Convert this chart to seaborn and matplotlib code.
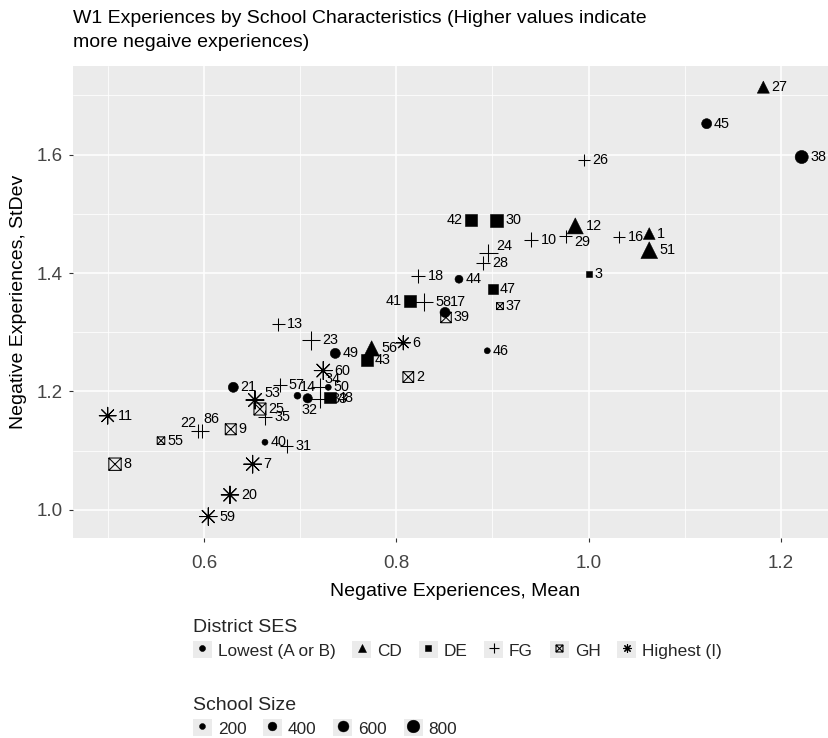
import numpy as np
import pandas as pd
import matplotlib
matplotlib.use("Agg")
import matplotlib.pyplot as plt
import seaborn as sns
from matplotlib.path import Path
from matplotlib.markers import MarkerStyle
from matplotlib.patches import Rectangle
from matplotlib.lines import Line2D
from matplotlib.legend_handler import HandlerTuple
from matplotlib import font_manager
from matplotlib.ticker import MultipleLocator, FormatStrFormatter

# ---------------- data ----------------
title_text = "W1 Experiences by School Characteristics (Higher values indicate\nmore negaive experiences)"
x_title = "Negative Experiences, Mean"
y_title = "Negative Experiences, StDev"
ses_title = "District SES"
size_title = "School Size"
ses_levels = ["Lowest (A or B)", "CD", "DE", "FG", "GH", "Highest (I)"]
size_breaks = [200, 400, 600, 800]

lowest_id = [38, 45, 17, 44, 46, 49, 21, 14, 32, 50, 40]
lowest_mean = [1.2215, 1.1227, 0.8507, 0.8652, 0.8946, 0.7366, 0.6306, 0.6973, 0.7079, 0.7293, 0.6635]
lowest_sd = [1.5960, 1.6523, 1.3335, 1.3896, 1.2687, 1.2643, 1.2070, 1.1928, 1.1884, 1.2070, 1.1142]
lowest_size = [850, 510, 510, 330, 200, 510, 510, 250, 440, 200, 200]

cd_id = [27, 12, 1, 51, 56]
cd_mean = [1.1816, 0.9861, 1.0630, 1.0630, 0.7744]
cd_sd = [1.7140, 1.4796, 1.4667, 1.4386, 1.2727]
cd_size = [410, 700, 390, 760, 640]

de_id = [30, 41, 42, 43, 48, 47, 3]
de_mean = [0.9044, 0.8143, 0.8774, 0.7696, 0.7311, 0.9002, 1.0004]
de_sd = [1.4892, 1.3530, 1.4892, 1.2530, 1.1894, 1.3728, 1.3981]
de_size = [850, 800, 720, 680, 650, 500, 200]

fg_id = [26, 10, 29, 16, 24, 28, 18, 58, 13, 23, 57, 35, 31, 22, 86, 34, 33]
fg_mean = [0.9952, 0.9401, 0.9761, 1.0319, 0.8957, 0.8905, 0.8229, 0.8288, 0.6773,
           0.7113, 0.6791, 0.6635, 0.6861, 0.5942, 0.5977, 0.7207, 0.7207]
fg_sd = [1.5916, 1.4566, 1.4622, 1.4610, 1.4340, 1.4171, 1.3947, 1.3503, 1.3132,
         1.2862, 1.2108, 1.1563, 1.1079, 1.1332, 1.1332, 1.2080, 1.1867]
fg_size = [360, 520, 450, 360, 850, 500, 520, 800, 450, 850, 450, 560, 450, 560, 560, 800, 800]

gh_id = [8, 25, 9, 55, 39, 2, 37]
gh_mean = [0.5076, 0.6583, 0.6279, 0.5554, 0.8517, 0.8125, 0.9078]
gh_sd = [1.0771, 1.1703, 1.1361, 1.1169, 1.3250, 1.2243, 1.3441]
gh_size = [760, 720, 600, 300, 560, 580, 250]

hi_id = [11, 53, 7, 20, 59, 60, 6]
hi_mean = [0.5000, 0.6531, 0.6507, 0.6271, 0.6046, 0.7241, 0.8073]
hi_sd = [1.1590, 1.1855, 1.0771, 1.0253, 0.9887, 1.2353, 1.2822]
hi_size = [700, 800, 780, 750, 750, 800, 500]

groups = [
    (ses_levels[0], lowest_id, lowest_mean, lowest_sd, lowest_size),
    (ses_levels[1], cd_id, cd_mean, cd_sd, cd_size),
    (ses_levels[2], de_id, de_mean, de_sd, de_size),
    (ses_levels[3], fg_id, fg_mean, fg_sd, fg_size),
    (ses_levels[4], gh_id, gh_mean, gh_sd, gh_size),
    (ses_levels[5], hi_id, hi_mean, hi_sd, hi_size),
]
df = pd.concat([
    pd.DataFrame({"id": i, "ses": g, "mean": m, "sd": s, "size": z})
    for g, i, m, s, z in groups
], ignore_index=True)

# ---------------- style ----------------
sns.set_style("darkgrid", {"axes.facecolor": "#EBEBEB", "grid.color": "white",
                           "axes.edgecolor": "none"})
avail = {f.name for f in font_manager.fontManager.ttflist}
fam = "Liberation Sans" if "Liberation Sans" in avail else "DejaVu Sans"
plt.rcParams["font.family"] = [fam, "DejaVu Sans"]

W, H = 829, 738
fig = plt.figure(figsize=(W / 100, H / 100), dpi=100)

# x/y limits via ggplot-like 5% expansion
xr = df["mean"].max() - df["mean"].min()
yr = df["sd"].max() - df["sd"].min()
xlim = (df["mean"].min() - 0.05 * xr, df["mean"].max() + 0.05 * xr)
ylim = (df["sd"].min() - 0.05 * yr, df["sd"].max() + 0.05 * yr)

# panel in pixels (right edge extends slightly past the canvas like the reference)
pl, pt_, pb = 73, 65.7, 538
pr = pl + (xlim[1] - xlim[0]) * 961.9
ax = fig.add_axes([pl / W, 1 - pb / H, (pr - pl) / W, (pb - pt_) / H])

GH_PATH = Path([(-.5, -.5), (.5, -.5), (.5, .5), (-.5, .5), (-.5, -.5),
                (-.5, -.5), (.5, .5), (-.5, .5), (.5, -.5)],
               [Path.MOVETO, Path.LINETO, Path.LINETO, Path.LINETO, Path.CLOSEPOLY,
                Path.MOVETO, Path.LINETO, Path.MOVETO, Path.LINETO])

# marker, area factor, filled
marker_spec = {
    ses_levels[0]: ("o", 1.0, True),
    ses_levels[1]: ("^", 1.82, True),
    ses_levels[2]: ("s", 1.0, True),
    ses_levels[3]: ("+", 2.0, False),
    ses_levels[4]: (MarkerStyle(GH_PATH, fillstyle="none"), 1.0, False),
    ses_levels[5]: ((8, 2, 0), 2.0, False),
}
S_LO, S_HI = 18.7, 94.3
NORM = (200, 900)


def area(v, f):
    t = np.clip((v - NORM[0]) / (NORM[1] - NORM[0]), 0, 1)
    return (S_LO + t * (S_HI - S_LO)) * f


for lvl in ses_levels:
    m, f, filled = marker_spec[lvl]
    sub = df[df["ses"] == lvl]
    kw = dict(edgecolor="black", linewidth=0.4) if filled else dict(linewidth=0.75)
    sns.scatterplot(data=sub, x="mean", y="sd", size="size", sizes=(S_LO * f, S_HI * f),
                    size_norm=NORM, marker=m, color="black", legend=False, ax=ax,
                    zorder=3, **kw)

# labels
overrides = {  # px offsets (dx right, dy down), ha
    42: (-8, 0, "right"), 41: (-8, 0, "right"), 29: (9, 6, "left"),
    24: (8, -7, "left"), 17: (5, -10, "left"), 34: (5, -8, "left"),
    14: (2, -9, "left"), 32: (2, 12, "center"), 22: (-2, -8, "right"),
    86: (2, -12, "left"), 53: (9, -7, "left"),
}
for _, r in df.iterrows():
    m, f, filled = marker_spec[r["ses"]]
    half_px = np.sqrt(area(r["size"], f)) / 0.72 / 2
    dx, dy, ha = overrides.get(int(r["id"]), (half_px + 2.2, 0, "left"))
    ax.annotate(str(int(r["id"])), (r["mean"], r["sd"]), xytext=(dx * 0.72, -dy * 0.72),
                textcoords="offset points", ha=ha, va="center", fontsize=10.4,
                color="black", zorder=2)

ax.set_xlim(*xlim)
ax.set_ylim(*ylim)
ax.xaxis.set_major_locator(MultipleLocator(0.2))
ax.xaxis.set_minor_locator(MultipleLocator(0.1))
ax.yaxis.set_major_locator(MultipleLocator(0.2))
ax.yaxis.set_minor_locator(MultipleLocator(0.1))
ax.xaxis.set_major_formatter(FormatStrFormatter("%.1f"))
ax.yaxis.set_major_formatter(FormatStrFormatter("%.1f"))
ax.grid(which="major", color="white", linewidth=1.1)
ax.grid(which="minor", color="white", linewidth=0.55)
ax.tick_params(which="major", length=3.2, width=0.8, color="#333333", labelsize=13.5,
               labelcolor="#444444", pad=4.5, bottom=True, left=True)
ax.tick_params(axis="x", which="major", pad=8.8)
ax.tick_params(which="minor", length=0)
for s in ax.spines.values():
    s.set_visible(False)

ax.set_xlabel(x_title, fontsize=14, color="black")
ax.set_ylabel(y_title, fontsize=14, color="black")
ax.xaxis.set_label_coords(0.5, -(583 - pb) / (pb - pt_))
ax.yaxis.set_label_coords((27 - pl) / (pr - pl), 0.5)

# title (two lines)
for k, line in enumerate(title_text.split("\n")):
    fig.text(72.7 / W, 1 - (22.7 + 24 * k) / H, line, fontsize=14, va="baseline",
             ha="left", color="black")

# legends
KEY_BG = "#EBEBEB"
def keyed(h):
    return (Rectangle((0, 0), 1, 1, facecolor=KEY_BG, edgecolor="none"), h)

leg_ms = {ses_levels[0]: 4.3, ses_levels[1]: 5.2, ses_levels[2]: 4.5,
          ses_levels[3]: 6.5, ses_levels[4]: 5.0, ses_levels[5]: 6.0}
shape_handles = []
for lvl in ses_levels:
    m, f, filled = marker_spec[lvl]
    mk = GH_PATH if lvl == ses_levels[4] else m
    shape_handles.append(keyed(Line2D([], [], marker=mk, linestyle="none",
                                      markersize=leg_ms[lvl], color="black",
                                      markerfacecolor="black" if filled else "none",
                                      markeredgewidth=0.4 if filled else 0.8)))
common = dict(loc="upper left", frameon=False, fontsize=12.4, title_fontsize=14,
              alignment="left", handlelength=1.1, handleheight=1.16,
              handletextpad=0.35, columnspacing=0.97, borderpad=0, borderaxespad=0,
              labelspacing=0.3, handler_map={tuple: HandlerTuple(ndivide=1, pad=0)})
leg1 = fig.legend(handles=shape_handles, labels=ses_levels, title=ses_title,
                  bbox_to_anchor=(192.7 / W, 1 - 619 / H), ncol=6, **common)
size_handles = [keyed(Line2D([], [], marker="o", linestyle="none",
                             markersize=np.sqrt(area(v, 1.0)), color="black",
                             markeredgewidth=0.3)) for v in size_breaks]
leg2 = fig.legend(handles=size_handles, labels=[str(v) for v in size_breaks],
                  title=size_title, bbox_to_anchor=(192.7 / W, 1 - 697 / H), ncol=4,
                  **common)

fig.savefig("out.png", dpi=100)
